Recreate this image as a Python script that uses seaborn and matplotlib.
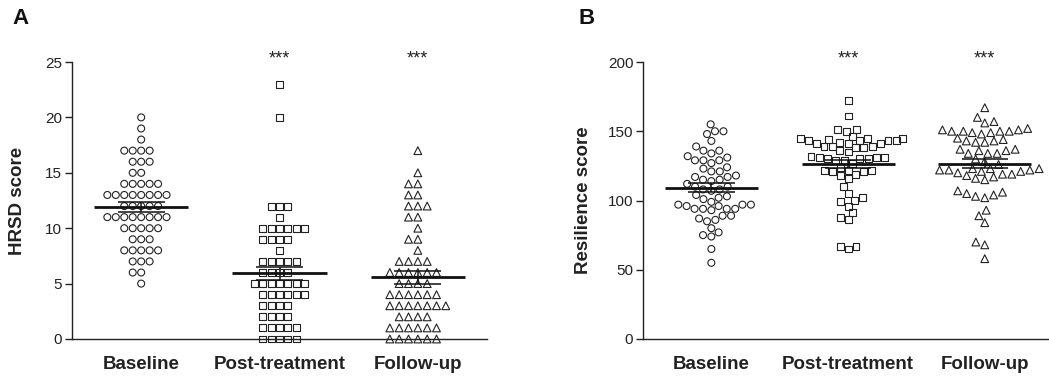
import numpy as np
import pandas as pd
import matplotlib
matplotlib.use("Agg")
import matplotlib.pyplot as plt
import seaborn as sns

groups = ["Baseline", "Post-treatment", "Follow-up"]
markers = ["o", "s", "^"]
msizes = [5, 5, 5.6]

# HRSD scores (panel A)
hrsd_baseline = [20, 19, 18, 17, 17, 17, 17, 16, 16, 16, 15, 15,
                 14, 14, 14, 14, 14, 13, 13, 13, 13, 13, 13, 13, 13,
                 12, 12, 12, 12, 12, 11, 11, 11, 11, 11, 11, 11, 11,
                 10, 10, 10, 10, 10, 9, 9, 9, 8, 8, 8, 8, 8,
                 7, 7, 7, 6, 6, 5]
hrsd_post = [23, 20, 12, 12, 12, 11, 10, 10, 10, 10, 10, 10,
             9, 9, 9, 9, 8, 7, 7, 7, 7, 7, 6, 6, 6, 6,
             5, 5, 5, 5, 5, 5, 5, 4, 4, 4, 4, 4, 4,
             3, 3, 3, 3, 2, 2, 2, 2, 1, 1, 1, 1, 1, 0, 0, 0, 0, 0]
hrsd_follow = [17, 15, 14, 14, 13, 13, 12, 12, 12, 11, 11, 10, 9, 9, 8,
               7, 7, 7, 7, 6, 6, 6, 6, 6, 6, 5, 5, 5, 5,
               4, 4, 4, 4, 4, 4, 3, 3, 3, 3, 3, 3, 3,
               2, 2, 2, 2, 1, 1, 1, 1, 1, 1, 0, 0, 0, 0, 0, 0]

# Resilience scores (panel B)
res_baseline = [155, 150, 150, 148, 143, 139, 136, 136, 134, 131, 129, 129,
                129, 132, 127, 123, 121, 121, 124, 118, 117, 115, 114, 115,
                117, 110, 108, 107, 108, 110, 112, 103, 101, 99, 102, 104,
                97, 96, 94, 94, 93, 94, 94, 96, 97, 97, 89, 87, 85, 86, 89,
                77, 74, 75, 80, 65, 55]
res_post = [172, 161, 151, 150, 151, 145, 144, 143, 143, 142, 143, 143, 145,
            145, 146, 141, 139, 139, 138, 136, 138, 139, 141, 141,
            132, 131, 130, 130, 129, 129, 130, 131, 131, 135,
            124, 122, 121, 122, 122, 121, 127, 119, 116, 118, 110, 105,
            100, 96, 99, 102, 91, 88, 86, 67, 65, 67]
res_follow = [167, 157, 156, 160, 150, 150, 150, 149, 148, 149, 150, 151, 151,
              152, 145, 143, 142, 142, 143, 144, 137, 136, 134, 136, 134, 134,
              137, 128, 130, 126, 123, 122, 121, 121, 123, 122, 120, 122, 123,
              117, 115, 119, 118, 119, 116, 105, 104, 102, 103, 106, 107,
              93, 89, 84, 70, 68, 58]

hrsd = {"Baseline": hrsd_baseline, "Post-treatment": hrsd_post, "Follow-up": hrsd_follow}
res = {"Baseline": res_baseline, "Post-treatment": res_post, "Follow-up": res_follow}

sns.set_style("ticks")
plt.rcParams["font.family"] = ["Liberation Sans", "DejaVu Sans"]
ink = "#222222"

fig = plt.figure(figsize=(10.49, 3.77), dpi=100)
axA = fig.add_axes([72 / 1049, 38 / 377, 415 / 1049, 277 / 377])
axB = fig.add_axes([643 / 1049, 38 / 377, 406 / 1049, 277 / 377])


def panel(ax, data, ymax, yticks, ylabel, xmax, pad):
    for g, m, sz in zip(groups, markers, msizes):
        df = pd.DataFrame({"group": g, "score": data[g]})
        sns.swarmplot(data=df, x="group", y="score", order=groups, marker=m,
                      size=sz, color=ink, edgecolor=ink, linewidth=0.8,
                      ax=ax, zorder=3)
    # seaborn leaves empty collections for the other categories; drop them
    for c in list(ax.collections):
        if len(c.get_offsets()) == 0:
            c.remove()
        else:
            c.set_facecolor("none")
            c.set_clip_on(False)
    # mean +/- SEM
    for i, g in enumerate(groups):
        v = np.asarray(data[g], dtype=float)
        m = v.mean()
        se = v.std(ddof=1) / np.sqrt(len(v))
        ax.hlines(m, i - 0.34, i + 0.34, color="#111111", lw=2, zorder=5)
        ax.hlines([m - se, m + se], i - 0.17, i + 0.17, color="#111111", lw=1.1, zorder=5)
        ax.vlines(i, m - se, m + se, color="#111111", lw=1.1, zorder=5)
        if i > 0:
            ax.text(i, ymax * 1.012, "***", ha="center", va="center",
                    fontsize=13, color=ink, clip_on=False)
    ax.set_xlim(-0.5, xmax)
    ax.set_ylim(0, ymax)
    ax.set_yticks(yticks)
    ax.set_xlabel("")
    ax.set_ylabel(ylabel, fontsize=13.5, fontweight="bold", color=ink, labelpad=pad)
    ax.tick_params(axis="y", length=5, width=1, labelsize=11, pad=2, color=ink, labelcolor=ink)
    ax.tick_params(axis="x", length=0, labelsize=13.5, pad=12, labelcolor=ink)
    for lab in ax.get_xticklabels():
        lab.set_fontweight("bold")
    sns.despine(ax=ax)
    for s in ["left", "bottom"]:
        ax.spines[s].set_linewidth(1.0)
        ax.spines[s].set_color(ink)


panel(axA, hrsd, 25, [0, 5, 10, 15, 20, 25], "HRSD score", 2.5, 14)
panel(axB, res, 200, [0, 50, 100, 150, 200], "Resilience score", 2.47, 11)

fig.text(12 / 1049, 1 - 8 / 377, "A", fontsize=16, fontweight="bold", va="top", color="#111111")
fig.text(579 / 1049, 1 - 8 / 377, "B", fontsize=16, fontweight="bold", va="top", color="#111111")

fig.savefig("out.png", dpi=100)
